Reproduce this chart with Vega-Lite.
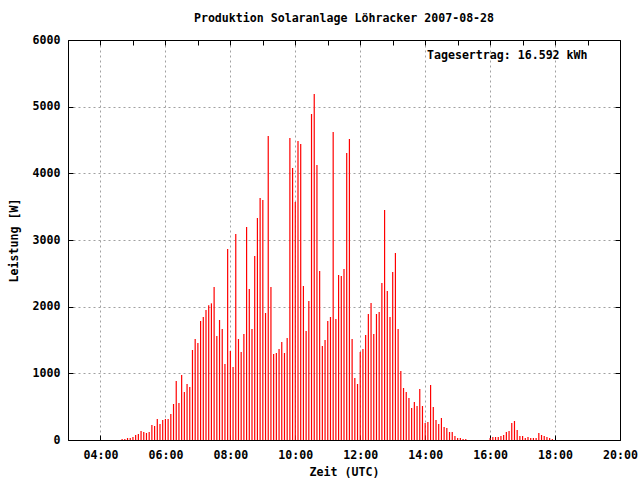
{
  "$schema": "https://vega.github.io/schema/vega-lite/v6.json",
  "width": 552,
  "height": 400,
  "autosize": {"type": "none"},
  "padding": {"left": 68, "top": 40, "right": 20, "bottom": 40},
  "background": "white",
  "title": {"text": "Produktion Solaranlage Löhracker 2007-08-28", "font": "DejaVu Sans Mono", "fontSize": 11.6, "fontWeight": "bold", "color": "black", "offset": 9, "anchor": "middle"},
  "config": {
    "view": {"stroke": "black", "strokeWidth": 1},
    "axis": {"labelFont": "DejaVu Sans Mono", "labelFontSize": 11.6, "labelFontWeight": "bold", "labelColor": "black", "titleFont": "DejaVu Sans Mono", "titleFontSize": 11.6, "titleFontWeight": "bold", "titleColor": "black", "domainColor": "black", "tickColor": "black", "gridColor": "#a0a0a0", "gridDash": [2, 3], "gridWidth": 1}
  },
  "data": {
    "values": [
      {"t": "2007-08-28 04:40", "w": 15}, {"t": "2007-08-28 04:45", "w": 15}, {"t": "2007-08-28 04:50", "w": 30}, {"t": "2007-08-28 04:55", "w": 30},
      {"t": "2007-08-28 05:00", "w": 45}, {"t": "2007-08-28 05:05", "w": 75}, {"t": "2007-08-28 05:10", "w": 90}, {"t": "2007-08-28 05:15", "w": 135},
      {"t": "2007-08-28 05:20", "w": 120}, {"t": "2007-08-28 05:25", "w": 105}, {"t": "2007-08-28 05:30", "w": 120}, {"t": "2007-08-28 05:35", "w": 225},
      {"t": "2007-08-28 05:40", "w": 210}, {"t": "2007-08-28 05:45", "w": 315}, {"t": "2007-08-28 05:50", "w": 240}, {"t": "2007-08-28 05:55", "w": 300},
      {"t": "2007-08-28 06:00", "w": 315}, {"t": "2007-08-28 06:05", "w": 315}, {"t": "2007-08-28 06:10", "w": 390}, {"t": "2007-08-28 06:15", "w": 540},
      {"t": "2007-08-28 06:20", "w": 885}, {"t": "2007-08-28 06:25", "w": 555}, {"t": "2007-08-28 06:30", "w": 975}, {"t": "2007-08-28 06:35", "w": 720},
      {"t": "2007-08-28 06:40", "w": 840}, {"t": "2007-08-28 06:45", "w": 795}, {"t": "2007-08-28 06:50", "w": 1350}, {"t": "2007-08-28 06:55", "w": 1515},
      {"t": "2007-08-28 07:00", "w": 1455}, {"t": "2007-08-28 07:05", "w": 1785}, {"t": "2007-08-28 07:10", "w": 1845}, {"t": "2007-08-28 07:15", "w": 1950},
      {"t": "2007-08-28 07:20", "w": 2020}, {"t": "2007-08-28 07:25", "w": 2050}, {"t": "2007-08-28 07:30", "w": 2295}, {"t": "2007-08-28 07:35", "w": 1560},
      {"t": "2007-08-28 07:40", "w": 1800}, {"t": "2007-08-28 07:45", "w": 1665}, {"t": "2007-08-28 07:50", "w": 1140}, {"t": "2007-08-28 07:55", "w": 2865},
      {"t": "2007-08-28 08:00", "w": 1335}, {"t": "2007-08-28 08:05", "w": 1095}, {"t": "2007-08-28 08:10", "w": 3090}, {"t": "2007-08-28 08:15", "w": 1515},
      {"t": "2007-08-28 08:20", "w": 1320}, {"t": "2007-08-28 08:25", "w": 1590}, {"t": "2007-08-28 08:30", "w": 3195}, {"t": "2007-08-28 08:35", "w": 2265},
      {"t": "2007-08-28 08:40", "w": 1665}, {"t": "2007-08-28 08:45", "w": 2760}, {"t": "2007-08-28 08:50", "w": 3330}, {"t": "2007-08-28 08:55", "w": 3630},
      {"t": "2007-08-28 09:00", "w": 3600}, {"t": "2007-08-28 09:05", "w": 1905}, {"t": "2007-08-28 09:10", "w": 4560}, {"t": "2007-08-28 09:15", "w": 2295},
      {"t": "2007-08-28 09:20", "w": 1290}, {"t": "2007-08-28 09:25", "w": 1305}, {"t": "2007-08-28 09:30", "w": 1365}, {"t": "2007-08-28 09:35", "w": 1470},
      {"t": "2007-08-28 09:40", "w": 1305}, {"t": "2007-08-28 09:45", "w": 1530}, {"t": "2007-08-28 09:50", "w": 4530}, {"t": "2007-08-28 09:55", "w": 4080},
      {"t": "2007-08-28 10:00", "w": 3570}, {"t": "2007-08-28 10:05", "w": 4485}, {"t": "2007-08-28 10:10", "w": 4440}, {"t": "2007-08-28 10:15", "w": 2310},
      {"t": "2007-08-28 10:20", "w": 1635}, {"t": "2007-08-28 10:25", "w": 2085}, {"t": "2007-08-28 10:30", "w": 4890}, {"t": "2007-08-28 10:35", "w": 5190},
      {"t": "2007-08-28 10:40", "w": 4125}, {"t": "2007-08-28 10:45", "w": 2535}, {"t": "2007-08-28 10:50", "w": 1410}, {"t": "2007-08-28 10:55", "w": 1500},
      {"t": "2007-08-28 11:00", "w": 1785}, {"t": "2007-08-28 11:05", "w": 1845}, {"t": "2007-08-28 11:10", "w": 4620}, {"t": "2007-08-28 11:15", "w": 1815},
      {"t": "2007-08-28 11:20", "w": 2475}, {"t": "2007-08-28 11:25", "w": 2460}, {"t": "2007-08-28 11:30", "w": 2565}, {"t": "2007-08-28 11:35", "w": 4305},
      {"t": "2007-08-28 11:40", "w": 4515}, {"t": "2007-08-28 11:45", "w": 1515}, {"t": "2007-08-28 11:50", "w": 930}, {"t": "2007-08-28 11:55", "w": 840},
      {"t": "2007-08-28 12:00", "w": 1320}, {"t": "2007-08-28 12:05", "w": 1365}, {"t": "2007-08-28 12:10", "w": 1575}, {"t": "2007-08-28 12:15", "w": 1890},
      {"t": "2007-08-28 12:20", "w": 2055}, {"t": "2007-08-28 12:25", "w": 1590}, {"t": "2007-08-28 12:30", "w": 1890}, {"t": "2007-08-28 12:35", "w": 1920},
      {"t": "2007-08-28 12:40", "w": 2355}, {"t": "2007-08-28 12:45", "w": 3450}, {"t": "2007-08-28 12:50", "w": 2235}, {"t": "2007-08-28 12:55", "w": 1845},
      {"t": "2007-08-28 13:00", "w": 2520}, {"t": "2007-08-28 13:05", "w": 2805}, {"t": "2007-08-28 13:10", "w": 1665}, {"t": "2007-08-28 13:15", "w": 1035},
      {"t": "2007-08-28 13:20", "w": 780}, {"t": "2007-08-28 13:25", "w": 720}, {"t": "2007-08-28 13:30", "w": 630}, {"t": "2007-08-28 13:35", "w": 480},
      {"t": "2007-08-28 13:40", "w": 570}, {"t": "2007-08-28 13:45", "w": 510}, {"t": "2007-08-28 13:50", "w": 765}, {"t": "2007-08-28 13:55", "w": 510},
      {"t": "2007-08-28 14:00", "w": 255}, {"t": "2007-08-28 14:05", "w": 270}, {"t": "2007-08-28 14:10", "w": 825}, {"t": "2007-08-28 14:15", "w": 495},
      {"t": "2007-08-28 14:20", "w": 300}, {"t": "2007-08-28 14:25", "w": 240}, {"t": "2007-08-28 14:30", "w": 330}, {"t": "2007-08-28 14:35", "w": 195},
      {"t": "2007-08-28 14:40", "w": 180}, {"t": "2007-08-28 14:45", "w": 120}, {"t": "2007-08-28 14:50", "w": 120}, {"t": "2007-08-28 14:55", "w": 60},
      {"t": "2007-08-28 15:00", "w": 30}, {"t": "2007-08-28 15:05", "w": 30}, {"t": "2007-08-28 15:10", "w": 15}, {"t": "2007-08-28 15:15", "w": 15},
      {"t": "2007-08-28 16:00", "w": 30}, {"t": "2007-08-28 16:05", "w": 45}, {"t": "2007-08-28 16:10", "w": 45}, {"t": "2007-08-28 16:15", "w": 45},
      {"t": "2007-08-28 16:20", "w": 60}, {"t": "2007-08-28 16:25", "w": 75}, {"t": "2007-08-28 16:30", "w": 120}, {"t": "2007-08-28 16:35", "w": 135},
      {"t": "2007-08-28 16:40", "w": 255}, {"t": "2007-08-28 16:45", "w": 285}, {"t": "2007-08-28 16:50", "w": 150}, {"t": "2007-08-28 16:55", "w": 60},
      {"t": "2007-08-28 17:00", "w": 60}, {"t": "2007-08-28 17:05", "w": 30}, {"t": "2007-08-28 17:10", "w": 45}, {"t": "2007-08-28 17:15", "w": 30},
      {"t": "2007-08-28 17:20", "w": 30}, {"t": "2007-08-28 17:25", "w": 30}, {"t": "2007-08-28 17:30", "w": 105}, {"t": "2007-08-28 17:35", "w": 75},
      {"t": "2007-08-28 17:40", "w": 60}, {"t": "2007-08-28 17:45", "w": 45}, {"t": "2007-08-28 17:50", "w": 30}, {"t": "2007-08-28 17:55", "w": 15}
    ],
    "format": {"parse": {"t": "date:'%Y-%m-%d %H:%M'"}}
  },
  "layer": [
    {
      "mark": {"type": "rule", "color": "#ff0000", "strokeWidth": 1.2},
      "encoding": {
        "x": {
          "field": "t", "type": "temporal",
          "scale": {"domain": [{"year": 2007, "month": 8, "date": 28, "hours": 3}, {"year": 2007, "month": 8, "date": 28, "hours": 20}]},
          "axis": {
            "orient": "bottom", "title": "Zeit (UTC)", "titlePadding": 6,
            "values": [{"year": 2007, "month": 8, "date": 28, "hours": 4}, {"year": 2007, "month": 8, "date": 28, "hours": 6}, {"year": 2007, "month": 8, "date": 28, "hours": 8}, {"year": 2007, "month": 8, "date": 28, "hours": 10}, {"year": 2007, "month": 8, "date": 28, "hours": 12}, {"year": 2007, "month": 8, "date": 28, "hours": 14}, {"year": 2007, "month": 8, "date": 28, "hours": 16}, {"year": 2007, "month": 8, "date": 28, "hours": 18}, {"year": 2007, "month": 8, "date": 28, "hours": 20}],
            "format": "%H:%M",
            "labelFlush": false, "labelOverlap": false, "labelPadding": 14,
            "tickSize": -5, "grid": true
          }
        },
        "y": {
          "field": "w", "type": "quantitative",
          "scale": {"domain": [0, 6000], "nice": false},
          "axis": {"orient": "left", "title": "Leistung [W]", "values": [0, 1000, 2000, 3000, 4000, 5000, 6000], "format": "d", "tickSize": -5, "labelPadding": 13, "titlePadding": 13, "grid": true}
        },
        "y2": {"datum": 0}
      }
    },
    {
      "mark": {"type": "rule", "opacity": 0},
      "encoding": {
        "x": {
          "field": "t", "type": "temporal",
          "axis": {"orient": "top", "title": null, "labels": false, "grid": false, "tickSize": -5,
            "values": [{"year": 2007, "month": 8, "date": 28, "hours": 4}, {"year": 2007, "month": 8, "date": 28, "hours": 5}, {"year": 2007, "month": 8, "date": 28, "hours": 6}, {"year": 2007, "month": 8, "date": 28, "hours": 7}, {"year": 2007, "month": 8, "date": 28, "hours": 8}, {"year": 2007, "month": 8, "date": 28, "hours": 9}, {"year": 2007, "month": 8, "date": 28, "hours": 10}, {"year": 2007, "month": 8, "date": 28, "hours": 11}, {"year": 2007, "month": 8, "date": 28, "hours": 12}, {"year": 2007, "month": 8, "date": 28, "hours": 13}, {"year": 2007, "month": 8, "date": 28, "hours": 14}, {"year": 2007, "month": 8, "date": 28, "hours": 15}, {"year": 2007, "month": 8, "date": 28, "hours": 16}, {"year": 2007, "month": 8, "date": 28, "hours": 17}, {"year": 2007, "month": 8, "date": 28, "hours": 18}, {"year": 2007, "month": 8, "date": 28, "hours": 19}]}
        },
        "y": {"field": "w", "type": "quantitative", "axis": {"orient": "right", "title": null, "labels": false, "grid": false, "values": [0, 1000, 2000, 3000, 4000, 5000, 6000], "tickSize": -5}},
        "y2": {"datum": 0}
      }
    },
    {
      "data": {"values": [{"label": "Tagesertrag: 16.592 kWh"}]},
      "mark": {"type": "text", "align": "right", "baseline": "middle", "font": "DejaVu Sans Mono", "fontSize": 11.6, "fontWeight": "bold", "color": "black"},
      "encoding": {
        "x": {"datum": {"year": 2007, "month": 8, "date": 28, "hours": 19}, "type": "temporal", "axis": null},
        "y": {"datum": 5760, "type": "quantitative", "axis": null},
        "text": {"field": "label"}
      }
    }
  ],
  "resolve": {"axis": {"x": "independent", "y": "independent"}}
}
